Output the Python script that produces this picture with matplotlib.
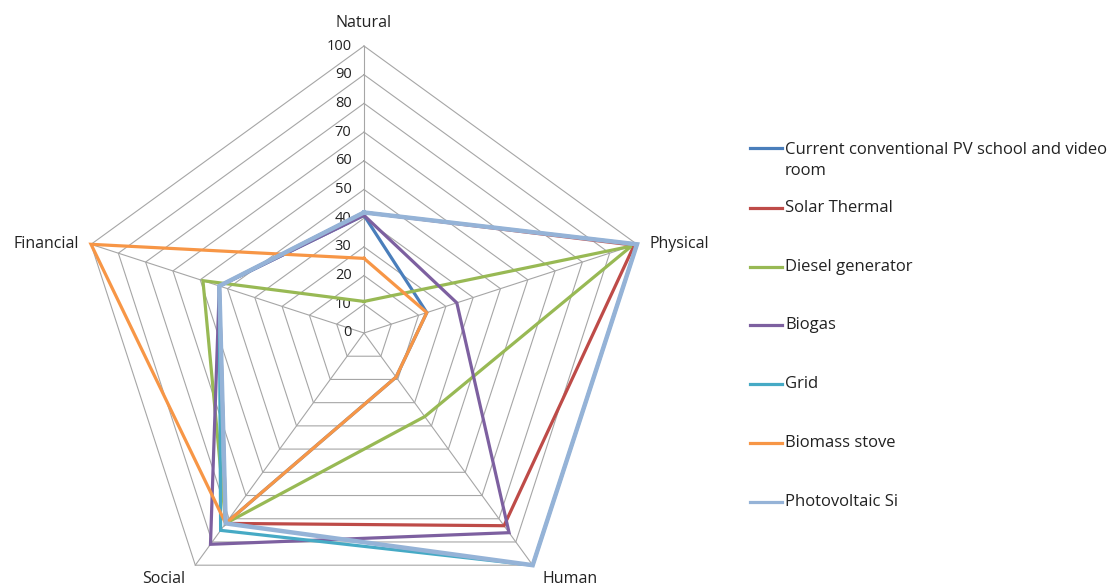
import numpy as np
import matplotlib
matplotlib.use("Agg")
import matplotlib.pyplot as plt
from matplotlib.lines import Line2D

plt.rcParams['font.family'] = ['Open Sans', 'DejaVu Sans']

# Capital categories (clockwise from the top)
categories = ["Natural", "Physical", "Human", "Social", "Financial"]

# Scores per technology, in category order
current_pv = [41, 23, 19, 82, 53]
solar_thermal = [42, 99, 83, 82, 53]
diesel_generator = [11, 98, 36, 82, 59]
biogas = [41, 34, 86, 91, 53]
grid = [42, 100, 100, 85, 53]
biomass_stove = [26, 23, 19, 82, 100]
photovoltaic_si = [42, 100, 100, 82, 53]

series_names = [
    "Current conventional PV school and video\nroom",
    "Solar Thermal",
    "Diesel generator",
    "Biogas",
    "Grid",
    "Biomass stove",
    "Photovoltaic Si",
]
series_values = [current_pv, solar_thermal, diesel_generator, biogas,
                 grid, biomass_stove, photovoltaic_si]
series_colors = ["#4A7EBB", "#BE4B48", "#98B954", "#7D60A0",
                 "#46AAC5", "#F79646", "#95B3D7"]
series_widths = [2.3, 2.3, 2.3, 2.3, 2.3, 2.3, 3.2]

rings = list(range(10, 101, 10))
tick_labels = [str(v) for v in range(0, 101, 10)]

W, H = 1110, 588
fig = plt.figure(figsize=(W / 100, H / 100), dpi=100)

cx, cy, R = 364, 333, 287
ax = fig.add_axes([(cx - R) / W, (H - cy - R) / H, 2 * R / W, 2 * R / H],
                  projection="polar")
ax.set_theta_offset(np.pi / 2)
ax.set_theta_direction(-1)
ax.set_ylim(0, 100)
ax.grid(False)
ax.spines["polar"].set_visible(False)
ax.set_xticks([])
ax.set_yticks([])
ax.patch.set_visible(False)

n = len(categories)
angles = np.linspace(0, 2 * np.pi, n, endpoint=False)
closed = np.concatenate([angles, angles[:1]])

grid_color = "#A6A6A6"
# polygon rings
for r in rings:
    ax.plot(closed, [r] * (n + 1), color=grid_color, lw=0.8, zorder=1,
            clip_on=False)
# spokes
for a in angles:
    ax.plot([a, a], [0, 100], color=grid_color, lw=0.8, zorder=1,
            clip_on=False)

# value labels along the first axis
for v, lab in zip(range(0, 101, 10), tick_labels):
    ax.annotate(lab, xy=(0, v), xytext=(-9, 0), textcoords="offset points",
                ha="right", va="center", fontsize=10.5, color="#222222")

# category labels
label_offsets = {
    "Natural": ((0, 11), "center", "bottom"),
    "Physical": ((9, 0), "left", "center"),
    "Human": ((7, -4), "left", "top"),
    "Social": ((-7, -4), "right", "top"),
    "Financial": ((-9, 0), "right", "center"),
}
for a, cat in zip(angles, categories):
    off, ha, va = label_offsets[cat]
    ax.annotate(cat, xy=(a, 100), xytext=off, textcoords="offset points",
                ha=ha, va=va, fontsize=11.5, color="#222222",
                annotation_clip=False)

# data polygons
for vals, col, lw in zip(series_values, series_colors, series_widths):
    v = list(vals) + [vals[0]]
    ax.plot(closed, v, color=col, lw=lw, zorder=3, clip_on=False,
            solid_joinstyle="miter")

# legend drawn on the right side
legend_y = [148, 208, 267, 325, 384, 443, 502]
for name, col, y in zip(series_names, series_colors, legend_y):
    yf = 1 - y / H
    fig.add_artist(Line2D([750 / W, 782 / W], [yf, yf], color=col,
                          lw=2.3, transform=fig.transFigure))
    if "\n" in name:
        fig.text(785 / W, yf + 6 / H, name, ha="left", va="top",
                 fontsize=12, color="#222222", linespacing=1.45)
    else:
        fig.text(785 / W, yf, name, ha="left", va="center",
                 fontsize=12, color="#222222")

fig.savefig("out.png", dpi=100, facecolor="white")
